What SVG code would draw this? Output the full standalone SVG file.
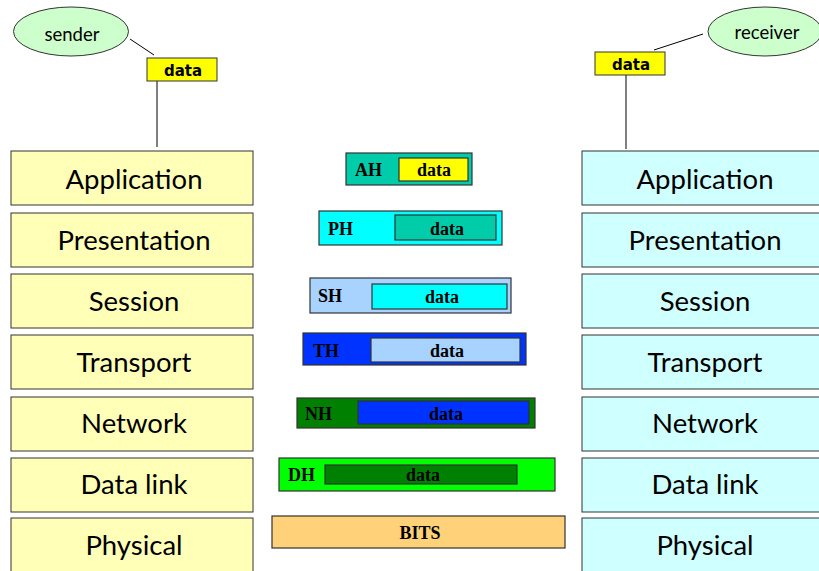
<svg xmlns="http://www.w3.org/2000/svg" width="819" height="571" viewBox="0 0 819 571">
  <style>
    .bg { fill: #ffffff; }
    .snd rect { fill: #FFFFB8; stroke: #333333; stroke-width: 1; }
    .rcv rect { fill: #D0FFFF; stroke: #333333; stroke-width: 1; }
    .layer text { font-family: "Lato", "Open Sans", sans-serif; font-size: 27.5px; fill: #000; text-anchor: middle; }
    .host ellipse { fill: #CCFFCC; stroke: #333333; stroke-width: 1; }
    .host text { font-family: "Lato", "Open Sans", sans-serif; font-size: 18.5px; fill: #000; text-anchor: middle; }
    .ud rect { fill: #FFFF00; stroke: #333333; stroke-width: 1; }
    .ud text { font-family: "DejaVu Sans", "Verdana", sans-serif; font-weight: bold; font-size: 15px; fill: #000; text-anchor: middle; }
    .pdu rect { stroke: #333333; stroke-width: 1.2; }
    .pdu text { font-family: "Liberation Serif", "Times New Roman", serif; font-weight: bold; font-size: 18px; fill: #000; }
    .pdu .mid { text-anchor: middle; }
    .conn line { stroke: #000; stroke-width: 1; }
  </style>
  <rect class="bg" x="0" y="0" width="819" height="571"/>

  <!-- connectors -->
  <g id="connectors" class="conn">
    <line x1="130" y1="39" x2="154" y2="55"/>
    <line x1="157" y1="81" x2="157" y2="147"/>
    <line x1="703" y1="34" x2="654" y2="50"/>
    <line x1="626" y1="75" x2="626" y2="149"/>
  </g>

  <!-- sender side -->
  <g id="sender" class="host">
    <ellipse cx="71" cy="31.5" rx="57.5" ry="24.5"/>
    <text x="72" y="41">sender</text>
  </g>
  <g id="sender-data" class="ud">
    <rect x="147" y="58" width="70" height="23"/>
    <text x="183" y="76">data</text>
  </g>

  <g class="layer snd">
    <g id="s-application"><rect x="11" y="151" width="242" height="54"/><text x="134" y="189">Application</text></g>
    <g id="s-presentation"><rect x="11" y="213" width="242" height="54"/><text x="134" y="250">Presentation</text></g>
    <g id="s-session"><rect x="11" y="274" width="242" height="54"/><text x="134" y="311">Session</text></g>
    <g id="s-transport"><rect x="11" y="335" width="242" height="54"/><text x="134" y="372">Transport</text></g>
    <g id="s-network"><rect x="11" y="397" width="242" height="54"/><text x="134" y="433">Network</text></g>
    <g id="s-datalink"><rect x="11" y="458" width="242" height="54"/><text x="134" y="494">Data link</text></g>
    <g id="s-physical"><rect x="11" y="518" width="242" height="60"/><text x="134" y="555">Physical</text></g>
  </g>

  <!-- receiver side -->
  <g id="receiver" class="host">
    <ellipse cx="765" cy="31.5" rx="57" ry="24.5"/>
    <text x="767" y="39">receiver</text>
  </g>
  <g id="receiver-data" class="ud">
    <rect x="595" y="52" width="70" height="23"/>
    <text x="631" y="70">data</text>
  </g>

  <g class="layer rcv">
    <g id="r-application"><rect x="582" y="151" width="242" height="54"/><text x="705" y="189">Application</text></g>
    <g id="r-presentation"><rect x="582" y="213" width="242" height="54"/><text x="705" y="250">Presentation</text></g>
    <g id="r-session"><rect x="582" y="274" width="242" height="54"/><text x="705" y="311">Session</text></g>
    <g id="r-transport"><rect x="582" y="335" width="242" height="54"/><text x="705" y="372">Transport</text></g>
    <g id="r-network"><rect x="582" y="397" width="242" height="54"/><text x="705" y="433">Network</text></g>
    <g id="r-datalink"><rect x="582" y="458" width="242" height="54"/><text x="705" y="494">Data link</text></g>
    <g id="r-physical"><rect x="582" y="518" width="242" height="60"/><text x="705" y="555">Physical</text></g>
  </g>

  <!-- encapsulated units, one per layer -->
  <g class="pdu">
    <g id="pdu-ah">
      <rect x="346" y="153" width="126" height="32" fill="#00CCAA"/>
      <rect x="399" y="158" width="69" height="23" fill="#FFFF00"/>
      <text x="355" y="176">AH</text>
      <text class="mid" x="434" y="176">data</text>
    </g>
    <g id="pdu-ph">
      <rect x="319" y="211" width="183" height="34" fill="#00FFFF"/>
      <rect x="395" y="215" width="101" height="25" fill="#00CCAA"/>
      <text x="328" y="235">PH</text>
      <text class="mid" x="447" y="235">data</text>
    </g>
    <g id="pdu-sh">
      <rect x="310" y="278" width="201" height="35" fill="#A8D2FF"/>
      <rect x="372" y="284" width="135" height="25" fill="#00FFFF"/>
      <text x="318" y="302">SH</text>
      <text class="mid" x="442" y="303">data</text>
    </g>
    <g id="pdu-th">
      <rect x="303" y="333" width="223" height="32" fill="#0033FF"/>
      <rect x="371" y="338" width="149" height="24" fill="#A8D2FF"/>
      <text x="313" y="357">TH</text>
      <text class="mid" x="447" y="357">data</text>
    </g>
    <g id="pdu-nh">
      <rect x="297" y="398" width="238" height="30" fill="#008000"/>
      <rect x="358" y="401" width="171" height="23" fill="#0033FF"/>
      <text x="305" y="420">NH</text>
      <text class="mid" x="446" y="420">data</text>
    </g>
    <g id="pdu-dh">
      <rect x="279" y="458" width="276" height="33" fill="#00FF00"/>
      <rect x="325" y="465" width="192" height="19" fill="#008000"/>
      <text x="288" y="481">DH</text>
      <text class="mid" x="423" y="481">data</text>
    </g>
    <g id="pdu-bits">
      <rect x="272" y="516" width="293" height="32" fill="#FFD27A"/>
      <text class="mid" x="420" y="539">BITS</text>
    </g>
  </g>
</svg>
